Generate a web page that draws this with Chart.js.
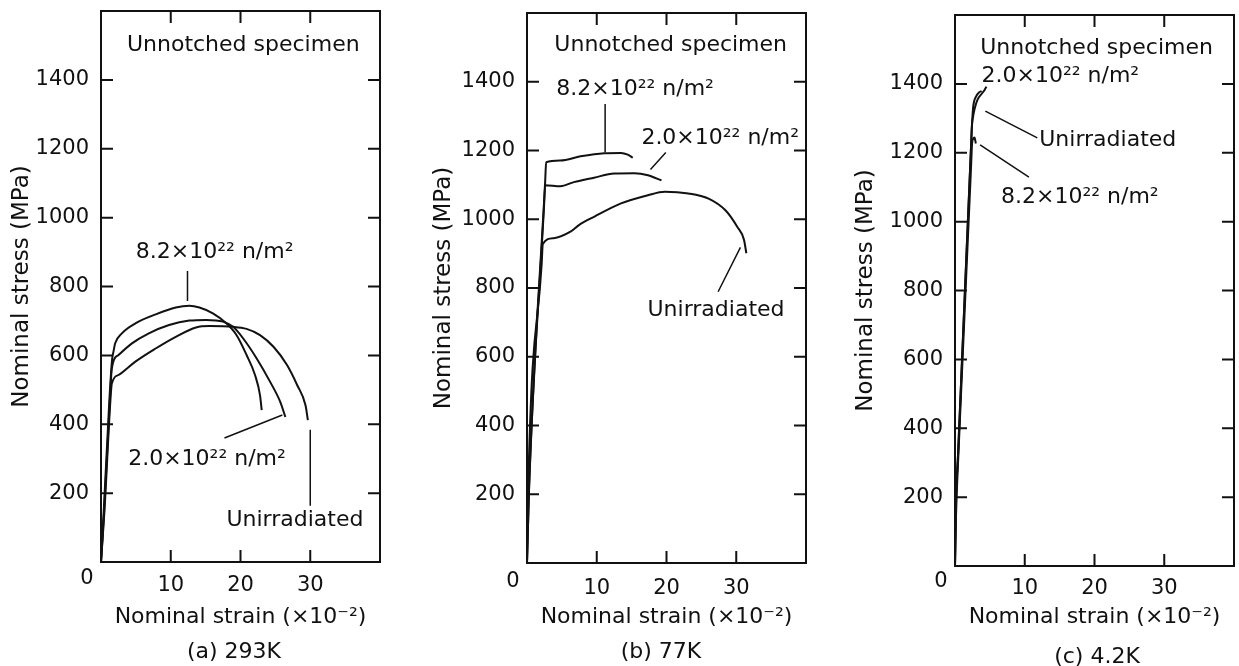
<!DOCTYPE html>
<html>
<head>
<meta charset="utf-8">
<script src="https://cdn.jsdelivr.net/npm/chart.js@4.4.1/dist/chart.umd.min.js"></script>
<style>
  html, body { margin: 0; padding: 0; background: #fff; }
  #wrap { position: relative; width: 1239px; height: 666px; overflow: hidden; }
  canvas { position: absolute; top: 0; }
</style>
</head>
<body>
<div id="wrap">
  <canvas id="pa" width="413" height="666" style="left:0px"></canvas>
  <canvas id="pb" width="413" height="666" style="left:413px"></canvas>
  <canvas id="pc" width="413" height="666" style="left:826px"></canvas>
</div>
<script>
// tick values
const strainTicks = [10, 20, 30];
const stressTicks = [200, 400, 600, 800, 1000, 1200, 1400];
const seriesNames = ['8.2×10²² n/m²', '2.0×10²² n/m²', 'Unirradiated'];
const captions = ['(a) 293K', '(b) 77K', '(c) 4.2K'];

// (a) 293 K  -- strain (x10^-2), stress (MPa)
const a82Strain = [0, 0.4, 1.2, 1.6, 1.79, 2.03, 2.99, 4.93, 7.83, 10.72, 12.66, 14.11, 16.04, 17.97, 19.42, 20.87, 22.08, 22.8, 23.04];
const a82Stress = [0, 150, 470, 590, 611, 635, 664, 693, 719, 739, 744, 739, 722, 693, 659, 601, 543, 484, 441];
const a20Strain = [0, 0.45, 1.3, 1.55, 2.51, 4.44, 6.86, 9.76, 12.66, 15.07, 17.49, 18.94, 20.39, 22.32, 24.25, 25.7, 26.43];
const a20Stress = [0, 150, 480, 562, 601, 635, 664, 688, 701, 703, 698, 683, 649, 591, 523, 465, 421];
const a00Strain = [0, 0.5, 1.35, 1.55, 2.51, 4.93, 7.83, 10.72, 13.62, 15.56, 18.94, 20.87, 22.8, 24.73, 26.67, 28.12, 29.32, 29.66];
const a00Stress = [0, 150, 470, 518, 543, 582, 620, 654, 681, 685, 683, 677, 659, 625, 572, 514, 455, 412];

// (b) 77 K
const b82Strain = [0, 0.3, 2.6, 2.75, 4.78, 7.68, 11.06, 13.48, 14.44, 15.17];
const b82Stress = [0, 220, 1108, 1166, 1171, 1183, 1192, 1193, 1188, 1179];
const b20Strain = [0, 0.3, 2.45, 2.6, 4.78, 6.71, 9.61, 12.51, 15.41, 17.34, 19.28];
const b20Stress = [0, 220, 1041, 1099, 1096, 1108, 1121, 1133, 1134, 1128, 1113];
const b00Strain = [0, 0.15, 2.1, 2.27, 3.82, 6.23, 7.44, 9.61, 13.48, 17.34, 19.76, 23.14, 26.03, 28.45, 30.14, 31.11, 31.45];
const b00Stress = [0, 200, 869, 928, 945, 964, 983, 1007, 1046, 1070, 1080, 1075, 1060, 1026, 978, 940, 901];

// (c) 4.2 K
const c82Strain = [0, 0.15, 0.5, 2.3, 2.45, 2.6, 2.8, 2.99];
const c82Stress = [0, 150, 330, 1158, 1228, 1240, 1244, 1227];
const c20Strain = [0, 0.1, 0.45, 2.3, 2.42, 2.61, 2.99, 3.48, 3.82];
const c20Stress = [0, 150, 330, 1218, 1276, 1333, 1362, 1376, 1379];
const c00Strain = [0, 0.1, 0.45, 2.3, 2.42, 2.51, 4.5];
const c00Stress = [0, 150, 330, 1218, 1276, 1295, 1392];

const ink = '#111';
const FAMILY = '"DejaVu Sans", sans-serif';

// frame, inward ticks, leader lines and in-plot text
const notesPlugin = {
  id: 'notes',
  afterDatasetsDraw(chart, args, o) {
    const { ctx, chartArea: a, scales: { x, y } } = chart;
    ctx.save();
    ctx.strokeStyle = ink;
    ctx.fillStyle = ink;
    ctx.lineWidth = 2;
    ctx.strokeRect(a.left, a.top, a.right - a.left, a.bottom - a.top);
    ctx.beginPath();
    stressTicks.forEach(v => {
      const py = y.getPixelForValue(v);
      ctx.moveTo(a.left, py); ctx.lineTo(a.left + 12, py);
      ctx.moveTo(a.right, py); ctx.lineTo(a.right - 12, py);
    });
    strainTicks.forEach(v => {
      const px = x.getPixelForValue(v);
      ctx.moveTo(px, a.bottom); ctx.lineTo(px, a.bottom - 12);
      ctx.moveTo(px, a.top); ctx.lineTo(px, a.top + 12);
    });
    ctx.stroke();

    ctx.lineWidth = 1.5;
    ctx.beginPath();
    o.leaders.forEach(([x1, y1, x2, y2]) => {
      ctx.moveTo(x.getPixelForValue(x1), y.getPixelForValue(y1));
      ctx.lineTo(x.getPixelForValue(x2), y.getPixelForValue(y2));
    });
    ctx.stroke();

    ctx.textAlign = 'center';
    ctx.textBaseline = 'middle';
    ctx.font = '22px ' + FAMILY;
    o.notes.forEach(([t, sx, sy]) => ctx.fillText(t, x.getPixelForValue(sx), y.getPixelForValue(sy)));

    ctx.font = '21px ' + FAMILY;
    ctx.fillText('0', a.left - 14, a.bottom + o.zeroDy);
    ctx.font = '22px ' + FAMILY;
    ctx.fillText(o.caption, o.capX, o.capY);
    ctx.restore();
  }
};

function pts(xs, ys) {
  return xs.map((v, i) => ({ x: v, y: ys[i] }));
}

function makePanel(p) {
  const W = 413, H = 666;
  return new Chart(document.getElementById(p.id), {
    type: 'scatter',
    data: {
      datasets: p.series.map((s, i) => ({
        label: seriesNames[i],
        data: pts(s[0], s[1]),
        showLine: true,
        borderColor: ink,
        borderWidth: 2,
        pointRadius: 0,
        cubicInterpolationMode: 'monotone',
        fill: false
      }))
    },
    options: {
      responsive: false,
      animation: false,
      events: [],
      layout: { padding: { left: 0, top: p.top, right: W - p.right, bottom: 0 } },
      plugins: {
        legend: { display: false },
        tooltip: { enabled: false },
        notes: { leaders: p.leaders, notes: p.notes, caption: p.caption, capX: p.capX, capY: p.capY, zeroDy: p.zeroDy }
      },
      scales: {
        x: {
          type: 'linear', min: 0, max: 40,
          grid: { display: false }, border: { display: false },
          afterBuildTicks: s => { s.ticks = strainTicks.map(v => ({ value: v })); },
          afterFit: s => { s.height = H - p.bottom; s.paddingLeft = 0; s.paddingRight = 0; },
          ticks: { color: ink, font: { family: FAMILY, size: 21 }, padding: p.xPad, maxRotation: 0, autoSkip: false,
                   callback: v => String(v) },
          title: { display: true, text: 'Nominal strain (×10⁻²)', color: ink,
                   font: { family: FAMILY, size: 22 }, padding: { top: 0, bottom: 36 } }
        },
        y: {
          type: 'linear', min: 0, max: 1600,
          grid: { display: false }, border: { display: false },
          afterBuildTicks: s => { s.ticks = stressTicks.map(v => ({ value: v })); },
          afterFit: s => { s.width = p.left; s.paddingTop = 0; s.paddingBottom = 0; },
          ticks: { color: ink, font: { family: FAMILY, size: 21 }, padding: 4, autoSkip: false,
                   callback: v => String(v) },
          title: { display: true, text: 'Nominal stress (MPa)', color: ink,
                   font: { family: FAMILY, size: 23 }, padding: { top: p.yTitlePad, bottom: 0 } }
        }
      }
    },
    plugins: [notesPlugin]
  });
}

makePanel({
  id: 'pa', left: 101, right: 380, top: 11, bottom: 562, xPad: 3, yTitlePad: 8,
  series: [[a82Strain, a82Stress], [a20Strain, a20Stress], [a00Strain, a00Stress]],
  notes: [['Unnotched specimen', 20.4, 1500], [seriesNames[0], 16.3, 899],
          [seriesNames[1], 15.2, 298], [seriesNames[2], 27.8, 120]],
  leaders: [[12.4, 845, 12.4, 758], [17.7, 360, 26.0, 427], [30, 384, 30, 163]],
  caption: captions[0], capX: 234, capY: 652, zeroDy: 17
});

makePanel({
  id: 'pb', left: 114, right: 393, top: 13, bottom: 563, xPad: 5, yTitlePad: 17,
  series: [[b82Strain, b82Stress], [b20Strain, b20Stress], [b00Strain, b00Stress]],
  notes: [['Unnotched specimen', 20.6, 1507], [seriesNames[0], 15.5, 1378],
          [seriesNames[1], 27.7, 1237], [seriesNames[2], 27.1, 734]],
  leaders: [[11.2, 1335, 11.2, 1195], [19.9, 1194, 17.7, 1145], [27.4, 789, 30.6, 918]],
  caption: captions[1], capX: 248, capY: 652, zeroDy: 19
});

makePanel({
  id: 'pc', left: 129, right: 408, top: 15, bottom: 566, xPad: 2, yTitlePad: 26,
  series: [[c82Strain, c82Stress], [c20Strain, c20Stress], [c00Strain, c00Stress]],
  notes: [['Unnotched specimen', 20.3, 1502], [seriesNames[1], 15.1, 1422],
          [seriesNames[2], 21.9, 1237], [seriesNames[0], 17.9, 1071]],
  leaders: [[4.35, 1321, 11.8, 1243], [3.6, 1223, 10.6, 1129]],
  caption: captions[2], capX: 271, capY: 657, zeroDy: 16
});
</script>
</body>
</html>
